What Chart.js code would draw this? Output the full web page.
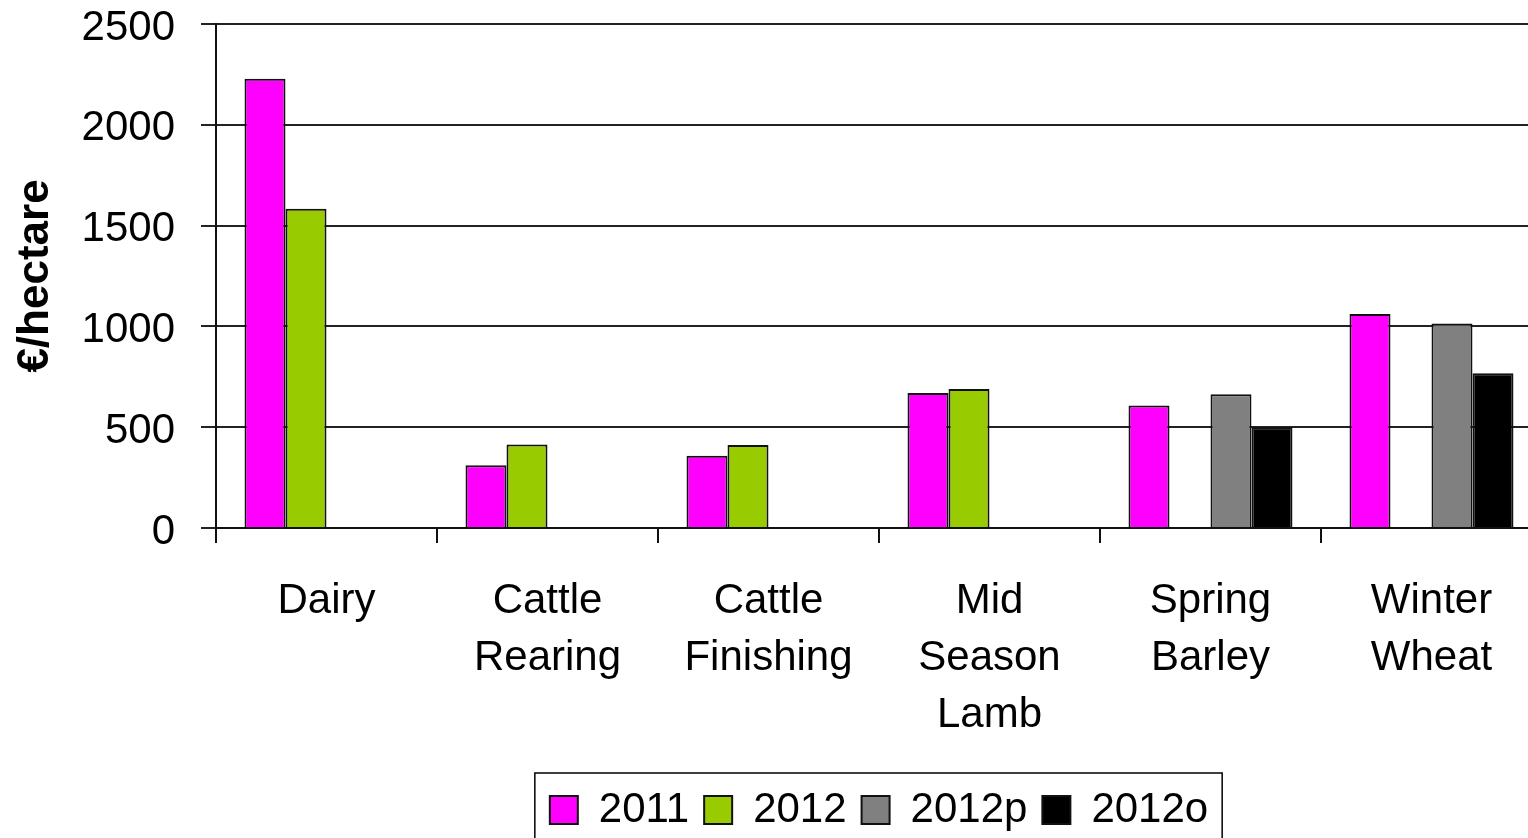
<!DOCTYPE html>
<html>
<head>
<meta charset="utf-8">
<script src="https://cdn.jsdelivr.net/npm/chart.js@4/dist/chart.umd.min.js"></script>
<style>
  html, body { margin: 0; padding: 0; overflow: hidden; background: #fff; }
  #wrap { position: absolute; left: 0; top: 0; width: 1542px; height: 841px; }
</style>
</head>
<body>
<div id="wrap"><canvas id="c" width="1542" height="841"></canvas></div>
<script>
const categories = ['Dairy', ['Cattle', 'Rearing'], ['Cattle', 'Finishing'], ['Mid', 'Season', 'Lamb'], ['Spring', 'Barley'], ['Winter', 'Wheat']];
const seriesNames = ['2011', '2012', '2012p', '2012o'];
const values2011  = [2229, 311, 358, 670, 608, 1062];
const values2012  = [1584, 414, 412, 689, null, null];
const values2012p = [null, null, null, null, 664, 1015];
const values2012o = [null, null, null, null, 500, 767];
const seriesColors = ['#FF00FF', '#99CC00', '#808080', '#000000'];
const yTicks = [0, 500, 1000, 1500, 2000, 2500];

const FONT = 'Liberation Sans, Arial, sans-serif';

// The original legend sits to the right of the visible centre (the source image is cropped on the right)
const legendShift = {
  id: 'legendShift',
  afterLayout(chart) {
    const lg = chart.legend;
    if (!lg) return;
    lg.left += 108;
    lg.right += 108;
  }
};

const legendBorder = {
  id: 'legendBorder',
  afterDraw(chart) {
    const lg = chart.legend;
    if (!lg || !lg.legendHitBoxes || !lg.legendHitBoxes.length) return;
    const hb = lg.legendHitBoxes;
    const first = hb[0], last = hb[hb.length - 1];
    const cy = first.top + first.height / 2;
    const x1 = first.left - 15, x2 = last.left + last.width + 14;
    const ctx = chart.ctx;
    ctx.save();
    ctx.strokeStyle = '#000';
    ctx.lineWidth = 1.5;
    ctx.strokeRect(x1, cy - 37, x2 - x1, 74);
    ctx.restore();
  }
};

const allSeries = [values2011, values2012, values2012p, values2012o];

new Chart(document.getElementById('c'), {
  type: 'bar',
  data: {
    labels: categories,
    datasets: seriesNames.map((n, i) => ({
      label: n,
      data: allSeries[i],
      backgroundColor: seriesColors[i],
      borderColor: '#111',
      borderWidth: 2,
      categoryPercentage: 0.742,
      barPercentage: 1.0
    }))
  },
  options: {
    responsive: false,
    animation: false,
    devicePixelRatio: 1,
    layout: { padding: { top: 0, left: 0, right: 0, bottom: 0 } },
    plugins: {
      tooltip: { enabled: false },
      legend: {
        position: 'bottom',
        align: 'center',
        labels: {
          color: '#000',
          font: { family: FONT, size: 42 },
          boxWidth: 28,
          boxHeight: 28,
          padding: 15
        }
      }
    },
    scales: {
      x: {
        grid: {
          display: true,
          offset: true,
          drawOnChartArea: false,
          drawTicks: true,
          tickLength: 15,
          color: '#111',
          lineWidth: 2
        },
        border: { display: true, color: '#111', width: 2 },
        ticks: {
          color: '#000',
          font: { family: FONT, size: 42, lineHeight: 1.36 },
          padding: 30,
          maxRotation: 0,
          minRotation: 0,
          autoSkip: false
        },
        afterFit(scale) { scale.height = 246; }
      },
      y: {
        min: 0,
        max: 2500,
        afterBuildTicks(scale) { scale.ticks = yTicks.map(v => ({ value: v })); },
        grid: {
          color: '#222',
          lineWidth: 2,
          drawTicks: true,
          tickLength: 15
        },
        border: { display: true, color: '#111', width: 2 },
        ticks: {
          color: '#000',
          font: { family: FONT, size: 42, lineHeight: 1.15 },
          padding: 26,
          labelOffset: 4,
          callback: (v) => String(v)
        },
        title: {
          display: true,
          text: '€/hectare',
          color: '#000',
          font: { family: FONT, size: 44, weight: 'bold', lineHeight: 1.2 },
          padding: { top: 9, bottom: 0 }
        },
        afterFit(scale) {
          scale.width = 216;
          scale.paddingTop = 24;
          scale.paddingBottom = 0;
        }
      }
    }
  },
  plugins: [legendShift, legendBorder]
});
</script>
</body>
</html>
